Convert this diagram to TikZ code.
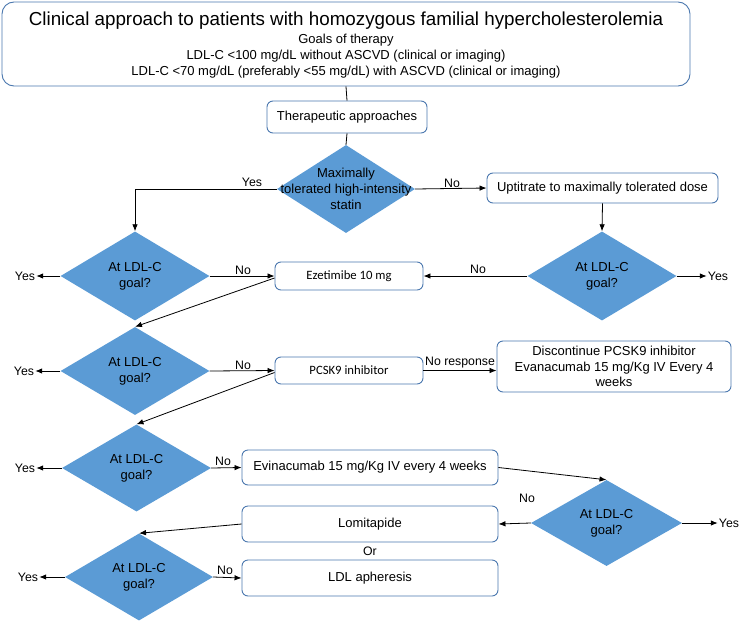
\documentclass[tikz,border=0pt]{standalone}
\usepackage{fontspec}
\setmainfont{Liberation Sans}
\newfontfamily\calib{Carlito}
\usetikzlibrary{shapes.geometric,arrows.meta}
\definecolor{dfill}{RGB}{91,155,213}
\definecolor{bdr}{RGB}{75,120,175}
\tikzset{
  box/.style={draw=bdr, line width=0.9pt, rounded corners=6pt, fill=white, inner sep=0pt,
    font=\fontsize{13}{15.5}\selectfont, align=center},
  dia/.style={diamond, fill=dfill, draw=none, inner sep=0pt},
  dtext/.style={font=\fontsize{13}{16}\selectfont, align=center, inner sep=0pt},
  txt/.style={inner sep=0pt, align=center},
  lbl/.style={font=\fontsize{12.3}{14}\selectfont, inner sep=1pt},
  arr/.style={-{Latex[length=7pt,width=5.5pt]}, line width=0.8pt},
  ln/.style={line width=0.8pt}
}
\begin{document}
\begin{tikzpicture}[x={(1pt,0)}, y={(0,-1pt)}]
\useasboundingbox (0,0) rectangle (741,621);

% top box
\node[box, rounded corners=12pt, minimum width=688pt, minimum height=84pt] (top) at (346,44) {};
\node[txt, font=\fontsize{18.8}{21}\selectfont] (t1) at (346,21) {Clinical approach to patients with homozygous familial hypercholesterolemia};
\node[txt, font=\fontsize{13}{15}\selectfont] (t2) at (346,40) {Goals of therapy};
\node[txt, font=\fontsize{13}{15}\selectfont] (t3) at (346,56) {LDL-C <100 mg/dL without ASCVD (clinical or imaging)};
\node[txt, font=\fontsize{13}{15}\selectfont] (t4) at (346,72) {LDL-C <70 mg/dL (preferably <55 mg/dL) with ASCVD (clinical or imaging)};

\node[box, minimum width=160pt, minimum height=32pt] (th) at (347,117) {Therapeutic approaches};

% main diamond
\node[dia, minimum width=138pt, minimum height=88pt] (d0) at (346,189) {};
\node[dtext] (d0t) at (346,189) {Maximally\\tolerated high-intensity\\statin};

\node[box, minimum width=231pt, minimum height=30pt] (up) at (602.5,188) {Uptitrate to maximally tolerated dose};

% diamonds
\node[dia, minimum width=149pt, minimum height=89pt] (rd1) at (602,276) {};
\node[dtext] (rd1t) at (602,276) {At LDL-C\\goal?};
\node[dia, minimum width=149pt, minimum height=89pt] (ld1) at (135,276) {};
\node[dtext] (ld1t) at (135,276) {At LDL-C\\goal?};
\node[dia, minimum width=149pt, minimum height=88pt] (ld2) at (135,371) {};
\node[dtext] (ld2t) at (135,371) {At LDL-C\\goal?};
\node[dia, minimum width=149pt, minimum height=87pt] (ld3) at (136.5,468) {};
\node[dtext] (ld3t) at (136.5,468) {At LDL-C\\goal?};
\node[dia, minimum width=151pt, minimum height=86pt] (rd2) at (606.5,523) {};
\node[dtext] (rd2t) at (606.5,523) {At LDL-C\\goal?};
\node[dia, minimum width=148pt, minimum height=87pt] (ld4) at (139,577) {};
\node[dtext] (ld4t) at (139,577) {At LDL-C\\goal?};

% boxes
\node[box, font=\calib\fontsize{12.7}{15}\selectfont, minimum width=148pt, minimum height=28pt] (ez) at (349,276) {Ezetimibe 10 mg};
\node[box, font=\calib\fontsize{12.7}{15}\selectfont, minimum width=148pt, minimum height=27pt] (pc) at (349,370.5) {PCSK9 inhibitor};
\node[box, minimum width=234pt, minimum height=51pt] (dc) at (614,366.5) {Discontinue PCSK9 inhibitor\\Evanacumab 15 mg/Kg IV Every 4\\weeks};
\node[box, minimum width=256pt, minimum height=35pt] (ev) at (370,467.5) {Evinacumab 15 mg/Kg IV every 4 weeks};
\node[box, minimum width=256pt, minimum height=36pt] (lo) at (370,524) {Lomitapide};
\node[box, minimum width=256pt, minimum height=36pt] (la) at (370,578) {LDL apheresis};
\node[lbl] (or) at (370,551) {Or};

% labels
\node[lbl] (yA) at (252,182) {Yes};
\node[lbl] (nA) at (452,183) {No};
\node[lbl] (y1) at (25,276) {Yes};
\node[lbl] (y2) at (24,371) {Yes};
\node[lbl] (y3) at (25,468) {Yes};
\node[lbl] (y4) at (28,577) {Yes};
\node[lbl] (yr1) at (718,276) {Yes};
\node[lbl] (yr2) at (729,523) {Yes};
\node[lbl] (n1) at (243,270) {No};
\node[lbl] (nr1) at (478,269) {No};
\node[lbl] (n2) at (243,365) {No};
\node[lbl] (n3) at (223,461) {No};
\node[lbl] (n4) at (225,570) {No};
\node[lbl] (nr2) at (527,498) {No};
\node[lbl] (nres) at (460,363) {No response};
\coordinate (cyes) at (135,189);

% connectors
\draw[ln] (top.south) -- (th.north);
\draw[ln] (th.south) -- (d0.north);
\draw[arr] (d0.west) -- (cyes) -- (ld1.north);
\draw[arr] (d0.east) -- (up.west);
\draw[arr] (up.south) -- (rd1.north);
\draw[arr] (rd1.east) -- (yr1.west);
\draw[arr] (rd1.west) -- (ez.east);
\draw[arr] (ld1.west) -- (y1.east);
\draw[arr] (ld1.east) -- (ez.west);
\draw[arr] ([yshift=-2pt]ez.west) -- (ld2.north);
\draw[arr] (ld2.west) -- (y2.east);
\draw[arr] (ld2.east) -- (pc.west);
\draw[arr] (pc.east) -- (dc.west |- pc.east);
\draw[arr] ([yshift=-2pt]pc.west) -- (ld3.north);
\draw[arr] (ld3.west) -- (y3.east);
\draw[arr] (ld3.east) -- (ev.west);
\draw[arr] (ev.east) -- (rd2.north);
\draw[arr] (rd2.east) -- (yr2.west);
\draw[arr] (rd2.west) -- (lo.east);
\draw[arr] (lo.west) -- (ld4.north);
\draw[arr] (ld4.west) -- (y4.east);
\draw[arr] (ld4.east) -- (la.west);
\end{tikzpicture}
\end{document}
